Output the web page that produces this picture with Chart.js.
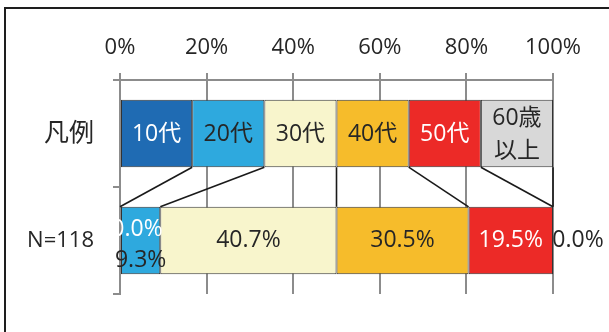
<!DOCTYPE html>
<html>
<head>
<meta charset="utf-8">
<script src="https://cdn.jsdelivr.net/npm/chart.js@4.4.0/dist/chart.umd.min.js"></script>
<style>
    body { margin: 0; overflow: hidden; background: #fff; }
    #marco { position: absolute; left: 4px; top: 7px; width: 800px; height: 800px; border: 2px solid #1e1e1e; }
    #GraficoIdade { position: absolute; left: 0; top: 0; }
</style>
</head>
<body>
<div id="marco"></div>
<canvas id="GraficoIdade" width="609" height="332"></canvas>
<script>
var categorias = ['凡例', 'N=118'];
var faixas = ['10代', '20代', '30代', '40代', '50代', '60歳以上'];
var rotulosLegenda = ['10代', '20代', '30代', '40代', '50代', ['60歳', '以上']];
var larguraLegenda = [16.67, 16.67, 16.66, 16.67, 16.67, 16.66];
var valores = [0.0, 9.3, 40.7, 30.5, 19.5, 0.0];
var ticksX = [0, 20, 40, 60, 80, 100];

var cores = ['#1f6bb3', '#2ea9de', '#f8f5cc', '#f6bc2b', '#ec2a27', '#d8d8d8'];
var coresTexto = ['#ffffff', '#262626', '#262626', '#262626', '#ffffff', '#262626'];
// deslocamento manual dos rotulos da linha N=118 (como no original)
var deslocamentos = [[17, -11], [0, 20], [0, 0], [0, 0], [0, 0], [25, 0]];

var fonte = "'Open Sans', 'Noto Sans CJK JP', sans-serif";
var corGrade = '#8c8c8c';

function MontarDatasets() {
    var datasets = [];
    var indice = 0;
    while (indice < faixas.length) {
        datasets.push({
            label: faixas[indice],
            data: [larguraLegenda[indice], valores[indice]],
            backgroundColor: cores[indice],
            borderColor: '#333333',
            borderWidth: 1,
            borderSkipped: false,
            inflateAmount: 0,
            barPercentage: 0.63,
            categoryPercentage: 1
        });
        indice++;
    }
    return datasets;
}

var pluginLinhasERotulos = {
    id: 'linhasERotulos',
    afterDatasetsDraw: function (chart) {
        var ctx = chart.ctx;
        ctx.save();

        // linhas de serie entre a legenda e a barra de dados
        ctx.strokeStyle = '#1a1a1a';
        ctx.lineWidth = 1.6;
        for (var i = 0; i < faixas.length; i++) {
            var meta = chart.getDatasetMeta(i);
            var a = meta.data[0];
            var b = meta.data[1];
            ctx.beginPath();
            ctx.moveTo(a.x, a.y + a.height / 2);
            ctx.lineTo(b.x, b.y - b.height / 2);
            ctx.stroke();
        }

        ctx.textAlign = 'center';
        ctx.textBaseline = 'middle';
        for (var j = 0; j < faixas.length; j++) {
            var m = chart.getDatasetMeta(j);
            var e0 = m.data[0];
            var e1 = m.data[1];
            ctx.fillStyle = coresTexto[j];

            // rotulo da legenda
            ctx.font = '23px ' + fonte;
            var cx0 = (e0.x + e0.base) / 2;
            var txt = rotulosLegenda[j];
            if (Array.isArray(txt)) {
                ctx.fillText(txt[0], cx0, e0.y - 15);
                ctx.fillText(txt[1], cx0, e0.y + 18);
            } else {
                ctx.fillText(txt, cx0, e0.y + 1);
            }

            // rotulo do valor
            var cx1 = (e1.x + e1.base) / 2 + deslocamentos[j][0];
            ctx.fillText(valores[j].toFixed(1) + '%', cx1, e1.y + deslocamentos[j][1]);
        }
        ctx.restore();
    }
};

var ctx = document.getElementById('GraficoIdade').getContext('2d');
var grafico = new Chart(ctx, {
    type: 'bar',
    data: {
        labels: categorias,
        datasets: MontarDatasets()
    },
    options: {
        indexAxis: 'y',
        responsive: false,
        animation: false,
        layout: { padding: { left: 0, top: 0, right: 56, bottom: 38 } },
        plugins: {
            legend: { display: false },
            tooltip: { enabled: false }
        },
        scales: {
            x: {
                position: 'top',
                stacked: true,
                min: 0,
                max: 100,
                afterBuildTicks: function (scale) {
                    scale.ticks = ticksX.map(function (v) { return { value: v }; });
                },
                afterFit: function (scale) { scale.height = 80; },
                ticks: {
                    callback: function (v) { return v + '%'; },
                    color: '#262626',
                    font: { family: fonte, size: 22 },
                    padding: 12,
                    maxRotation: 0
                },
                grid: { color: corGrade, lineWidth: 2, tickLength: 7 },
                border: { display: true, color: corGrade, width: 2 }
            },
            y: {
                stacked: true,
                afterFit: function (scale) { scale.width = 120; },
                ticks: {
                    color: '#262626',
                    font: function (c) {
                        return { family: fonte, size: c.index === 0 ? 25 : 22 };
                    },
                    padding: 19
                },
                grid: { drawOnChartArea: false, color: corGrade, lineWidth: 2, tickLength: 7 },
                border: { display: true, color: corGrade, width: 2 }
            }
        }
    },
    plugins: [pluginLinhasERotulos]
});
</script>
</body>
</html>
